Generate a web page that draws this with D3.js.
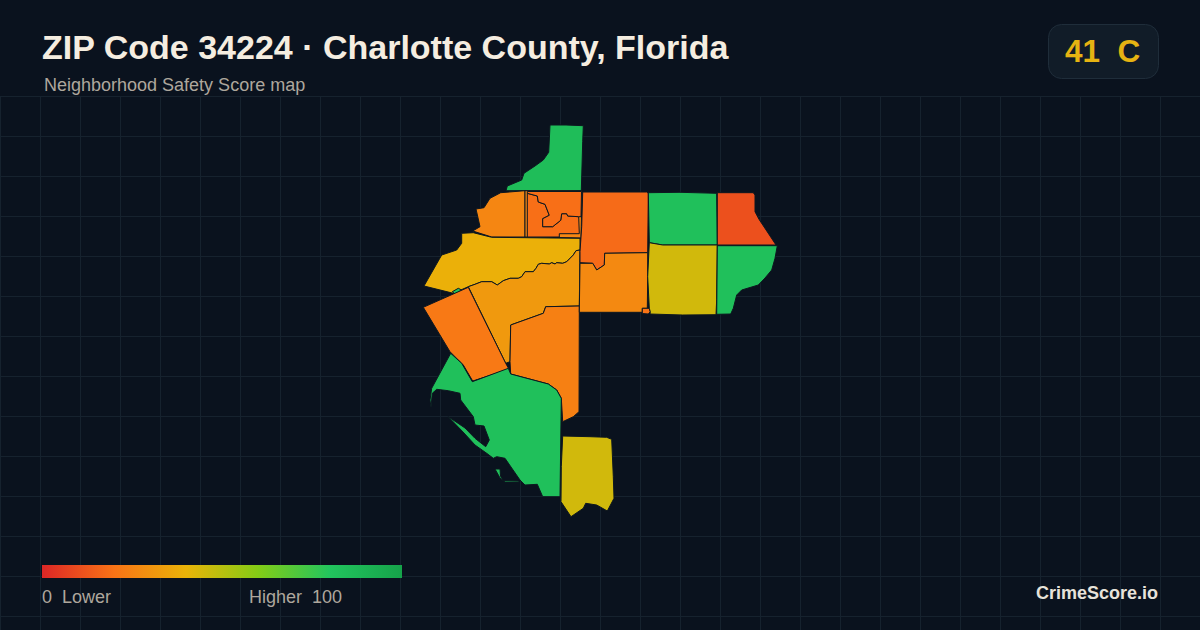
<!DOCTYPE html>
<html>
<head>
<meta charset="utf-8">
<title>ZIP Code 34224</title>
<script src="https://cdn.jsdelivr.net/npm/d3@7"></script>
<style>
html,body{margin:0;padding:0;background:#0a121e;}
svg{display:block;font-family:"Liberation Sans",Arial,sans-serif;}
text{white-space:pre;}
</style>
</head>
<body>
<div id="viz"></div>
<script>
var titleText = "ZIP Code 34224 · Charlotte County, Florida";
var subtitleText = "Neighborhood Safety Score map";
var badgeText = "41  C";
var brandText = "CrimeScore.io";
var legendLow = "0  Lower";
var legendHigh = "Higher  100";

// score colour ramp, as shown in the legend
var rampScores = [0,20,40,60,80,100];
var rampColors = ["#dc2626","#f97316","#eab308","#84cc16","#22c55e","#16a34a"];

// one score per neighborhood, same order as regionOutlines
var regionScores = [85,26,26,19,19,39,83,32,22,24,83,83,45,18,27,20,83,45,11,83];

// river edge shared by the two regions either side of it
var riverEdge = [[160,130],[156,130.7],[153.3,135],[146.7,141.7],[142.7,143.3],[136.7,142.7],[135,144],[131.7,142.7],[129.3,144],[121.7,143.3],[118.3,144.3],[116,148.3],[113.3,151.7],[105,151.7],[101.7,156.7],[98.3,158.3],[90,158.3],[83.3,160.7],[77.3,165],[71.7,161.7],[61.7,161.7],[55,164.3],[48.3,166.7]];

// outlines, in map units
var regionOutlines = [
	[[130,5],[146,5],[163.3,5.7],[162.7,21.7],[161.3,70.7],[86,70.7],[87.3,66],[101.7,60],[104,53.3],[115,46],[123.3,40],[128.7,32.3],[129.3,20]],
	[[105,70.7],[80.7,72.7],[70,78.3],[64,87.7],[56,89],[60,106.7],[52.7,111],[71.7,117],[105,117]],
	[[105,70.7],[162,71],[161,118],[105,117]],
	[[107.3,73.3],[117.3,76],[118.3,82],[125,84.3],[129.3,95.3],[122.7,98.7],[122.7,106.7],[132.7,106.7],[140.7,100.3],[141.7,93.7],[146.7,93.7],[147.7,96],[158.7,96.7],[159.3,113.7],[139.3,113.7],[139.3,117],[107.3,117]],
	[[107.3,73.3],[107.3,71.5],[161.5,71.5],[161,96.7],[158.7,96.7],[147.7,96],[146.7,93.7],[141.7,93.7],[140.7,100.3],[132.7,106.7],[122.7,106.7],[122.7,98.7],[129.3,95.3],[125,84.3],[118.3,82],[117.3,76]],
	[[41.7,113.3],[53.3,112.7],[71.7,117.3],[160,118.3]].concat(riverEdge,[[33.3,173.3],[4,166],[21.7,135],[36.7,130],[41.7,123.3]]),
	[[32.3,171.7],[38.3,168.3],[41.7,170],[35,174]],
	riverEdge.concat([[85.7,243.3],[90,241.7],[90.7,205],[123.3,193.3],[125.7,186.7],[159.3,186]]),
	[[3.3,187.3],[48.3,167.3],[85.7,243.3],[89,249.3],[52.7,261],[43.3,245],[30,231.7]],
	[[90.7,205],[123.3,193.3],[125.7,186.7],[159.3,186],[159,291.7],[153.3,296.7],[142.7,301.7],[141.3,278.3],[136.7,270],[128.3,264],[90.7,254],[90,241.7]],
	[[30.7,233.3],[41.7,243.3],[52.3,261.7],[88.3,248.3],[90.7,254],[128.3,264],[136.7,270],[141.3,278.3],[140,376.7],[122.7,376.7],[117.3,364.3],[105,365],[100,360],[85,338.3],[76.7,336.7],[73.3,338.3],[66.7,333.3],[55,325],[44,313],[28.3,296.7],[45,308],[55,318.3],[65.7,326.7],[69.3,320],[64,306],[55,305],[53.3,296.7],[40.7,280],[40,273.3],[28.3,270.7],[16.7,269.3],[12.3,273.3],[11,287.3],[10,280],[11.7,268.3]],
	[[75,349],[80,349],[80.5,356],[83,360.5],[99,361],[99,362],[85,362],[80,358]],
	[[142.7,316],[170,316.7],[186.7,317.3],[191.7,319.3],[193.3,356.7],[194,378.3],[187.3,391],[176.7,385],[165.7,383.3],[163.3,388.3],[151,396.7],[141,381.7],[141.3,346.7]],
	[[162.7,72],[226.7,72],[228.3,73.3],[227.7,132.7],[184.7,133.3],[184.3,145],[176.7,150],[172.7,143.3],[160,142.7],[160,131.7],[161.7,106.7]],
	[[160,143.3],[172.7,143.3],[176.7,150],[184.3,145],[184.7,133.3],[227.7,132.7],[227.7,156.7],[227.3,188.3],[222.3,188.3],[222.3,192.3],[159.3,192.3]],
	[[222.3,188.3],[229.3,188.3],[230.3,191.7],[228.3,194],[222.3,193.5]],
	[[228.3,72.7],[260,72.3],[296.7,73.3],[297.3,125],[242.7,125],[229.3,122.7]],
	[[229.3,122.7],[242.7,125],[297.3,125],[296.7,179.3],[296,194.7],[262.7,195],[230,194],[230.3,191.7],[229.3,188.3],[227.7,156.7]],
	[[297.3,72.7],[333.3,72.7],[335,75],[335,91.7],[339,99.3],[356,125],[297.3,125]],
	[[297.3,125.7],[357.3,125.7],[355,138.3],[351.7,150],[345,158],[338.3,165],[321.7,170],[316.7,175],[313.3,188.3],[310.7,194],[296.7,194.3]]
];

var Viz = (function(){
	var width = 1200, height = 630;
	var gridStep = 40, gridTop = 96;
	var mapX = 420, mapY = 120;
	var legendX = 42, legendY = 565, legendWidth = 360, legendHeight = 13;
	var bgColor = "#0a121e", gridColor = "#16222e", borderColor = "#0d1720";
	var textColor = "#aea79d";
	var svgContainer;

	var color = d3.scaleLinear().domain(rampScores).range(rampColors);

	var drawGrid = function(){
		var gridGroup = svgContainer.append("g").style("stroke",gridColor).style("stroke-width",1);
		gridGroup.selectAll(".gridV")
				.data(d3.range(0,width+1,gridStep))
				.enter()
				.append("line")
				.attr("class","gridV")
				.attr("x1",function(d){return d+0.5;})
				.attr("x2",function(d){return d+0.5;})
				.attr("y1",gridTop)
				.attr("y2",height);
		gridGroup.selectAll(".gridH")
				.data(d3.range(gridTop,height+1,gridStep))
				.enter()
				.append("line")
				.attr("class","gridH")
				.attr("x1",0)
				.attr("x2",width)
				.attr("y1",function(d){return d+0.5;})
				.attr("y2",function(d){return d+0.5;});
	}

	var drawMap = function(){
		var features = regionOutlines.map(function(ring,i){
			return {
				type:"Feature",
				properties:{score:regionScores[i]},
				geometry:{type:"Polygon",coordinates:[ring.concat([ring[0]])]}
			};
		});
		var path = d3.geoPath(d3.geoIdentity().translate([mapX,mapY]));
		svgContainer.append("g").selectAll(".region")
				.data(features)
				.enter()
				.append("path")
				.attr("class","region")
				.attr("d",path)
				.style("fill",function(d){return color(d.properties.score);})
				.style("stroke",borderColor)
				.style("stroke-width",1)
				.style("stroke-linejoin","round");
	}

	var drawHeader = function(){
		svgContainer.append("text")
				.attr("x",42)
				.attr("y",59)
				.style("font-size","34px")
				.style("font-weight","bold")
				.style("fill","#f5ede0")
				.text(titleText);
		svgContainer.append("text")
				.attr("x",44)
				.attr("y",91)
				.style("font-size","18px")
				.style("fill",textColor)
				.text(subtitleText);
		svgContainer.append("rect")
				.attr("x",1048.5)
				.attr("y",24.5)
				.attr("width",110)
				.attr("height",54)
				.attr("rx",13)
				.style("fill","#111c28")
				.style("stroke","#1f2d3a");
		svgContainer.append("text")
				.attr("x",1065)
				.attr("y",62)
				.style("font-size","31.5px")
				.style("font-weight","bold")
				.style("fill","#e6b312")
				.text(badgeText);
	}

	var drawLegend = function(){
		var gradient = svgContainer.append("defs").append("linearGradient").attr("id","ramp");
		gradient.selectAll("stop")
				.data(rampScores)
				.enter()
				.append("stop")
				.attr("offset",function(d){return d+"%";})
				.attr("stop-color",function(d){return color(d);});
		svgContainer.append("rect")
				.attr("x",legendX)
				.attr("y",legendY)
				.attr("width",legendWidth)
				.attr("height",legendHeight)
				.style("fill","url(#ramp)");
		svgContainer.append("text")
				.attr("x",legendX)
				.attr("y",603)
				.style("font-size","18px")
				.style("fill",textColor)
				.text(legendLow);
		svgContainer.append("text")
				.attr("x",249)
				.attr("y",603)
				.style("font-size","18px")
				.style("fill",textColor)
				.text(legendHigh);
		svgContainer.append("text")
				.attr("x",1158)
				.attr("y",599)
				.attr("text-anchor","end")
				.style("font-size","18px")
				.style("font-weight","bold")
				.style("fill","#e7e2da")
				.text(brandText);
	}

	var draw = function(){
		svgContainer = d3.select("#viz").append("svg")
				.attr("width",width)
				.attr("height",height)
				.style("background",bgColor);
		drawGrid();
		drawMap();
		drawHeader();
		drawLegend();
	}

	return {draw:draw};
})();

Viz.draw();
</script>
</body>
</html>
